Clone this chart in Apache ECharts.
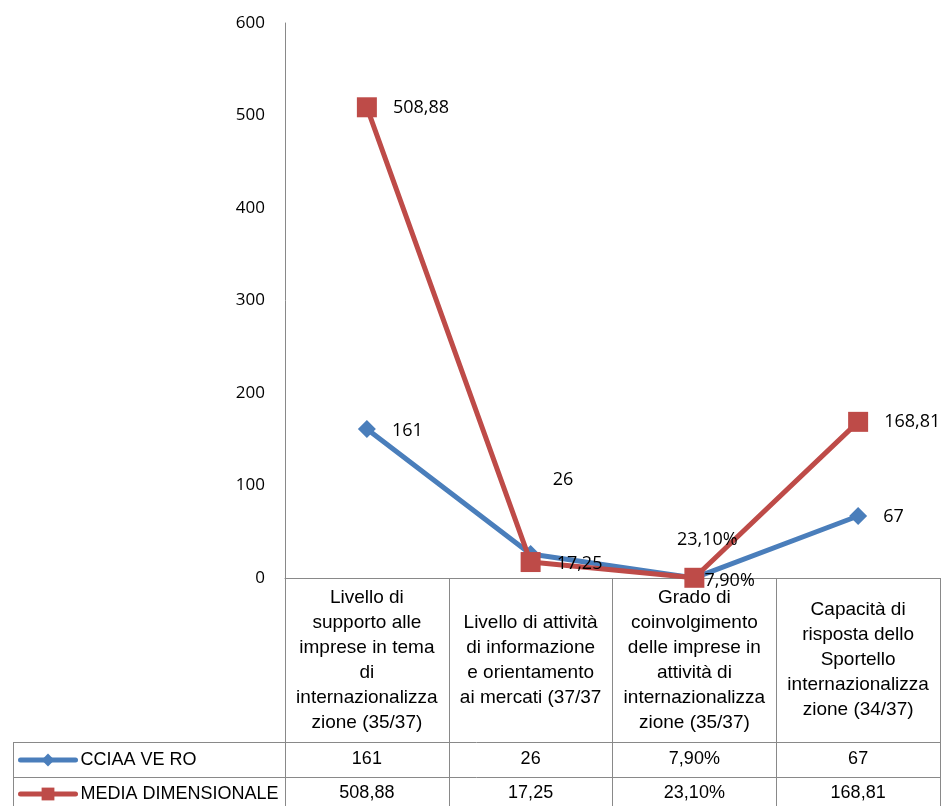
<!DOCTYPE html>
<html><head><meta charset="utf-8">
<script src="https://cdn.jsdelivr.net/npm/echarts@6/dist/echarts.min.js"></script>
<style>html,body{margin:0;padding:0;background:#fff}#c{width:943px;height:806px}</style>
</head><body><div id="c"></div>
<script>
const categories = [
  'Livello di\nsupporto alle\nimprese in tema\ndi\ninternazionalizza\nzione (35/37)',
  'Livello di attività\ndi informazione\ne orientamento\nai mercati (37/37',
  'Grado di\ncoinvolgimento\ndelle imprese in\nattività di\ninternazionalizza\nzione (35/37)',
  'Capacità di\nrisposta dello\nSportello\ninternazionalizza\nzione (34/37)'
];
const seriesNames = ['CCIAA VE RO', 'MEDIA DIMENSIONALE'];
const cciaaValues = [161, 26, 0.079, 67];
const mediaValues = [508.88, 17.25, 0.231, 168.81];
const cciaaLabels = ['161', '26', '7,90%', '67'];
const mediaLabels = ['508,88', '17,25', '23,10%', '168,81'];
const yMin = 0, yMax = 600, yInterval = 100;

const BLUE = '#4A7EBB', RED = '#BE4B48', GRID_C = '#898989';
const tableFont = 'Liberation Sans';
const numFont = 'Open Sans';

const cciaaPlace = [
  {position: 'right', offset: [0, 2]},
  {position: 'right', offset: [-3, -74]},
  {position: 'right', offset: [-15, 3]},
  {position: 'right', offset: [0, 1]}
];
const mediaPlace = [
  {position: 'right', offset: [0, 1]},
  {position: 'right', offset: [0, 2]},
  {position: 'top', offset: [13, 0], distance: 19},
  {position: 'right', offset: [0, 0]}
];

function buildData(values, labels, place) {
  return values.map((v, i) => ({
    value: v,
    label: Object.assign({formatter: labels[i]}, place[i])
  }));
}

const chart = echarts.init(document.getElementById('c'), null, {renderer: 'canvas'});
const labelStyle = {show: true, distance: 16, color: '#000', fontFamily: numFont, fontSize: 18};

function legendFor(name, top) {
  return {
    orient: 'horizontal', left: 18, top: top, padding: 0, itemWidth: 55, itemHeight: 16, itemGap: 0,
    data: [name], selectedMode: false,
    lineStyle: {width: 5, cap: 'round'},
    textStyle: {fontFamily: tableFont, fontSize: 18, color: '#000', padding: [0, 0, 0, 0]}
  };
}

const option = {
  animation: false,
  backgroundColor: '#fff',
  grid: {left: 285, right: 3, top: 23, bottom: 228, containLabel: false, outerBoundsMode: 'none'},
  legend: [legendFor(seriesNames[0], 751), legendFor(seriesNames[1], 785)],
  xAxis: [
    {
      type: 'category', data: categories, boundaryGap: true,
      axisLine: {show: true, lineStyle: {color: GRID_C, width: 1}},
      axisTick: {show: true, interval: 0, length: 228, lineStyle: {color: GRID_C, width: 1}},
      axisLabel: {interval: 0, margin: 82, verticalAlign: 'middle', color: '#000',
                  fontFamily: tableFont, fontSize: 19, lineHeight: 25, align: 'center'},
      splitLine: {show: false}
    },
    {
      type: 'category', data: cciaaLabels, position: 'bottom', offset: 164, gridIndex: 0,
      axisLine: {show: false}, axisTick: {show: false},
      axisLabel: {interval: 0, margin: 17, verticalAlign: 'middle', color: '#000',
                  fontFamily: tableFont, fontSize: 18}
    },
    {
      type: 'category', data: mediaLabels, position: 'bottom', offset: 199, gridIndex: 0,
      axisLine: {show: false}, axisTick: {show: false},
      axisLabel: {interval: 0, margin: 16, verticalAlign: 'middle', color: '#000',
                  fontFamily: tableFont, fontSize: 18}
    }
  ],
  yAxis: {
    type: 'value', min: yMin, max: yMax, interval: yInterval,
    axisLine: {show: true, lineStyle: {color: GRID_C, width: 1}},
    axisTick: {show: false},
    splitLine: {show: false},
    axisLabel: {margin: 20, color: '#000', fontFamily: numFont, fontSize: 17}
  },
  series: [
    {
      name: seriesNames[0], type: 'line', xAxisIndex: 0,
      data: buildData(cciaaValues, cciaaLabels, cciaaPlace),
      symbol: 'diamond', symbolSize: 18, showAllSymbol: true,
      lineStyle: {color: BLUE, width: 5}, itemStyle: {color: BLUE},
      label: labelStyle, z: 2
    },
    {
      name: seriesNames[1], type: 'line', xAxisIndex: 0,
      data: buildData(mediaValues, mediaLabels, mediaPlace),
      symbol: 'rect', symbolSize: 20, showAllSymbol: true,
      lineStyle: {color: RED, width: 5}, itemStyle: {color: RED},
      label: labelStyle, z: 3
    }
  ],
  graphic: [
    {type: 'line', shape: {x1: 13, y1: 742.5, x2: 940, y2: 742.5}, style: {stroke: GRID_C, lineWidth: 1}, silent: true},
    {type: 'line', shape: {x1: 13, y1: 777.5, x2: 940, y2: 777.5}, style: {stroke: GRID_C, lineWidth: 1}, silent: true},
    {type: 'line', shape: {x1: 13.5, y1: 742, x2: 13.5, y2: 806}, style: {stroke: GRID_C, lineWidth: 1}, silent: true}
  ]
};
chart.setOption(option);
</script>
</body></html>
